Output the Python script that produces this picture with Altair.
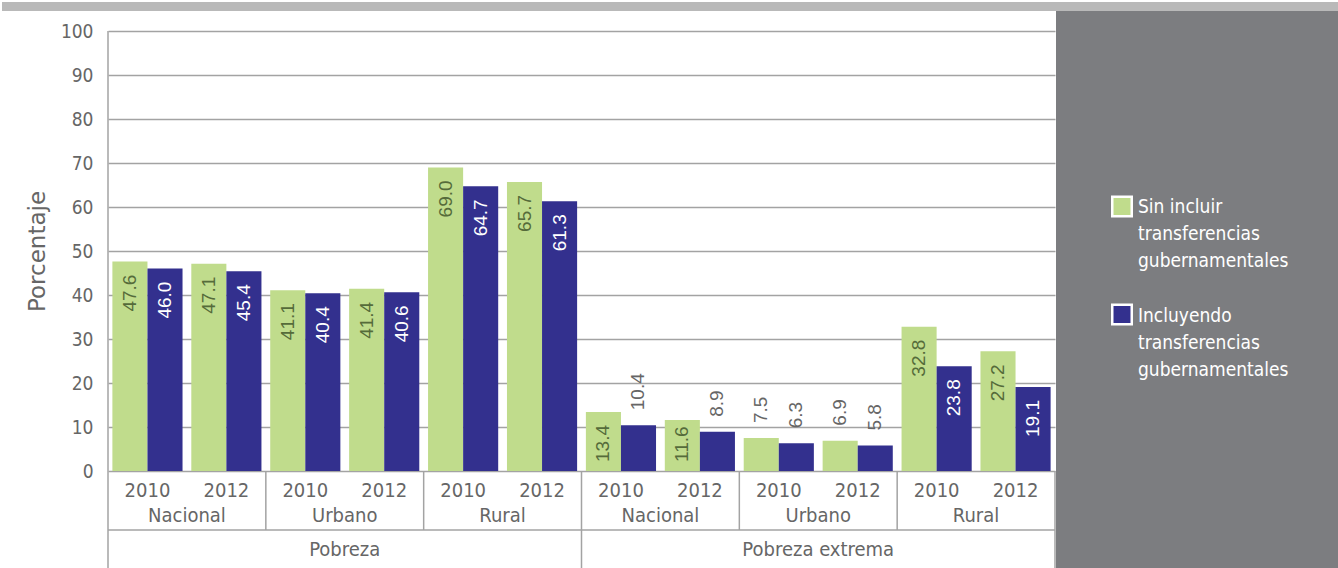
import altair as alt
import pandas as pd

categories = ["Pobreza", "Pobreza extrema"]
regions = ["Nacional", "Urbano", "Rural"]
years = ["2010", "2012"]
series = ["Sin incluir transferencias gubernamentales",
          "Incluyendo transferencias gubernamentales"]
legend_lines = ["Sin incluir\ntransferencias\ngubernamentales",
                "Incluyendo\ntransferencias\ngubernamentales"]
sin_transf = [47.6, 47.1, 41.1, 41.4, 69.0, 65.7, 13.4, 11.6, 7.5, 6.9, 32.8, 27.2]
con_transf = [46.0, 45.4, 40.4, 40.6, 64.7, 61.3, 10.4, 8.9, 6.3, 5.8, 23.8, 19.1]
y_ticks = list(range(0, 101, 10))
colors = ["#c0dc8c", "#33308e"]

NARROW = "DejaVu Sans Condensed, Roboto, sans-serif"
REG = "Liberation Sans, Arial, sans-serif"
TXT = "#666666"
LINE = "#a3a3a3"

keys, rows = [], []
i = 0
for c in categories:
    for r in regions:
        for yv in years:
            k = f"{c}|{r}|{yv}"
            keys.append(k)
            for s, vals in zip(series, [sin_transf, con_transf]):
                rows.append(dict(key=k, cat=c, reg=r, year=yv, series=s, value=vals[i]))
            i += 1
df = pd.DataFrame(rows)

year_df = pd.DataFrame({"key": keys, "label": [k.split("|")[2] for k in keys]})
region_df = pd.DataFrame({"key": [f"{c}|{r}|{years[0]}" for c in categories for r in regions],
                          "label": [r for c in categories for r in regions]})
cat_df = pd.DataFrame({"key": [f"{c}|{regions[1]}|{years[0]}" for c in categories],
                       "label": categories})
sep_reg_df = pd.DataFrame({"key": [f"{c}|{r}|{years[0]}" for c in categories for r in regions[1:]]})
sep_cat_df = pd.DataFrame({"key": [f"{c}|{regions[0]}|{years[0]}" for c in categories[1:]]})
sep_end_df = pd.DataFrame({"key": [keys[-1]]})
one = pd.DataFrame({"a": [0]})

W, H = 947, 440
xscale = alt.Scale(domain=keys, paddingInner=0, paddingOuter=0)
oscale = alt.Scale(domain=series, paddingInner=0, paddingOuter=0.125)
cscale = alt.Scale(domain=series, range=colors)


def X(bp=None):
    kw = dict(scale=xscale, axis=None)
    if bp is not None:
        kw["bandPosition"] = bp
    return alt.X("key:N", **kw)


yaxis = alt.Axis(values=y_ticks, grid=True, gridColor=LINE, gridWidth=1.3,
                 domain=False, ticks=False, labelFont=NARROW, labelFontSize=19,
                 labelColor=TXT, labelPadding=15, title="Porcentaje",
                 titleFont="DejaVu Sans", titleFontSize=23, titleFontWeight="normal",
                 titleColor=TXT, titleAngle=270, titleX=-71, titleY=220,
                 titleAlign="center", titleBaseline="middle")
yscale = alt.Scale(domain=[0, 100], nice=False, zero=True)


def Y(field="value"):
    return alt.Y(f"{field}:Q", scale=yscale, axis=yaxis)


xo = alt.XOffset("series:N", scale=oscale)

bars = alt.Chart(df).mark_bar().encode(
    x=X(), xOffset=xo, y=Y(),
    color=alt.Color("series:N", scale=cscale, legend=None),
)

txt_color = alt.condition(f"datum.series == '{series[1]}'", alt.value("white"), alt.value("#556b3a"))

lab_top = alt.Chart(df).transform_filter("datum.value >= 15").mark_text(
    angle=270, align="right", baseline="middle", dx=-13, font=REG, fontSize=19
).encode(x=X(), xOffset=xo, y=Y(), text=alt.Text("value:Q", format=".1f"), color=txt_color)

lab_bot = alt.Chart(df).transform_filter("datum.value >= 11 && datum.value < 15").transform_calculate(
    zero="0").mark_text(
    angle=270, align="left", baseline="middle", dx=9, font=REG, fontSize=19
).encode(x=X(), xOffset=xo, y=Y("zero"), text=alt.Text("value:Q", format=".1f"), color=txt_color)

lab_out = alt.Chart(df).transform_filter("datum.value < 11").mark_text(
    angle=270, align="left", baseline="middle", dx=15, font=REG, fontSize=19, color=TXT
).encode(x=X(), xOffset=xo, y=Y(), text=alt.Text("value:Q", format=".1f"))

years_t = alt.Chart(year_df).mark_text(font=NARROW, fontSize=20, color=TXT, baseline="alphabetic").encode(
    x=X(), y=alt.value(466), text="label:N")
regions_t = alt.Chart(region_df).mark_text(font=NARROW, fontSize=20, color=TXT, baseline="alphabetic").encode(
    x=X(1), y=alt.value(491), text="label:N")
cats_t = alt.Chart(cat_df).mark_text(font=NARROW, fontSize=20, color=TXT, baseline="alphabetic").encode(
    x=X(1), y=alt.value(525), text="label:N")

sep_reg = alt.Chart(sep_reg_df).mark_rule(color=LINE, strokeWidth=1.5).encode(
    x=X(0), y=alt.value(H), y2=alt.value(499))
sep_cat = alt.Chart(sep_cat_df).mark_rule(color=LINE, strokeWidth=1.5).encode(
    x=X(0), y=alt.value(H), y2=alt.value(537))
sep_end = alt.Chart(sep_end_df).mark_rule(color=LINE, strokeWidth=1.5).encode(
    x=X(1), y=alt.value(H), y2=alt.value(537))
hline = alt.Chart(one).mark_rule(color=LINE, strokeWidth=1.5).encode(
    x=alt.value(0), x2=alt.value(W), y=alt.value(499))
vleft = alt.Chart(one).mark_rule(color=LINE, strokeWidth=1.5).encode(
    x=alt.value(0), y=alt.value(0), y2=alt.value(537))

panel = alt.Chart(one).mark_rect(color="#7c7d80").encode(
    x=alt.value(948), x2=alt.value(1230), y=alt.value(-20), y2=alt.value(537))
topbar = alt.Chart(one).mark_rect(color="#b9b9b9").encode(
    x=alt.value(-106), x2=alt.value(1230), y=alt.value(-29), y2=alt.value(-20))

leg_layers = []
leg_df = pd.DataFrame({"series": series, "lines": legend_lines})
for j, (sq_y, tx_y) in enumerate([(175.5, 182), (283.5, 291)]):
    d = leg_df.iloc[[j]]
    leg_layers.append(alt.Chart(d).mark_square(size=380, stroke="white", strokeWidth=2.5, opacity=1).encode(
        x=alt.value(1014), y=alt.value(sq_y),
        color=alt.Color("series:N", scale=cscale, legend=None)))
    leg_layers.append(alt.Chart(d).mark_text(
        align="left", baseline="alphabetic", font=NARROW, fontSize=19, color="white",
        lineBreak="\n", lineHeight=27).encode(
        x=alt.value(1030), y=alt.value(tx_y), text="lines:N"))

chart = alt.layer(
    panel, topbar, bars, lab_top, lab_bot, lab_out,
    years_t, regions_t, cats_t, sep_reg, sep_cat, sep_end, hline, vleft,
    *leg_layers
).properties(
    width=W, height=H,
    padding={"left": 108, "top": 31, "right": 283, "bottom": 97},
    autosize=alt.AutoSizeParams(type="none"),
).configure_view(stroke=None)

chart.save("out.html", embed_options={"renderer": "svg", "actions": False})
